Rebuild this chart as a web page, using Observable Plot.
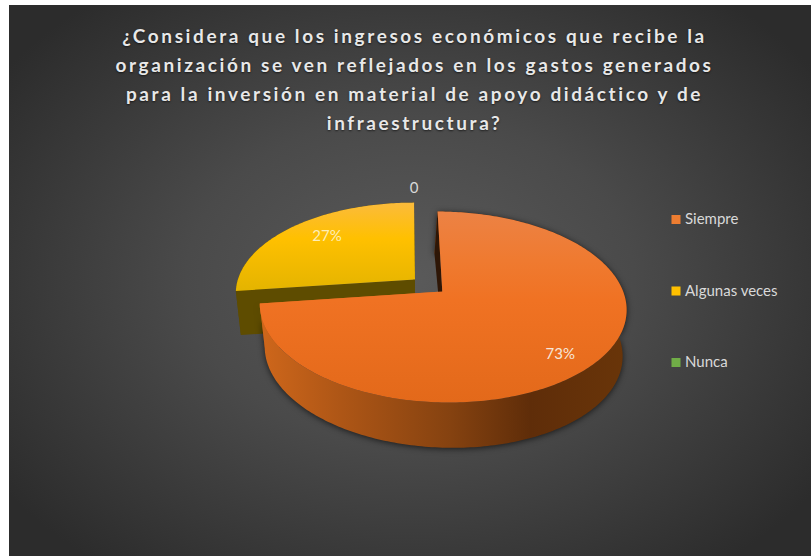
<!DOCTYPE html>
<html><head><meta charset="utf-8">
<script src="https://cdn.jsdelivr.net/npm/d3@7"></script>
<script src="https://cdn.jsdelivr.net/npm/@observablehq/plot@0.6"></script>
<style>
html,body{margin:0;padding:0;background:#fff;}
#frame{position:relative;margin:5px 0 0 9px;width:802px;height:551px;overflow:hidden;
 background:radial-gradient(ellipse 62% 66% at 50% 50%,#5a5a5a 0%,#4a4a4a 45%,#2c2c2c 100%);}
#title{height:126px;box-sizing:border-box;padding-top:16px;text-align:center;color:#e8e8e8;
 font:bold 19px/29px Lato,sans-serif;letter-spacing:2.6px;text-shadow:0 1px 2px rgba(0,0,0,.6);margin-left:9px;}
#chart svg{display:block;}
</style></head><body>
<div id="frame"><div id="title">¿Considera que los ingresos económicos que recibe la<br>organización se ven reflejados en los gastos generados<br>para la inversión en material de apoyo didáctico y de<br>infraestructura?</div><div id="chart"></div></div>
<script>
const categories = ["Siempre", "Algunas veces", "Nunca"];
const values = [73, 27, 0];
const valueLabels = ["73%", "27%", "0"];
const topColors = ["url(#topOrange)", "url(#topYellow)", "#70ad47"];
const wallColors = ["url(#wallOrange)", "#5e4c00", "#44702a"];
const startWallColors = ["#2e1606", "#5e4c00", "#44702a"];
const endWallColors = ["#cf671b", "#262626", "#44702a"];
const legendColors = ["#ed7d31", "#ffc000", "#70ad47"];
const labelRadius = [0.83, 0.755, 1.2];
const labelTurn = [5.2, 3.4, -3.5];
const labelColors = ["#f6e6da", "#fdeeb8", "#d9d9d9"];

// Oblique view of the pie plane
const x0 = 428, y0 = 285, R = 179, Rs = 91, k = 0.16, a = 0.018, explode = 0.1;
function project(U, V, h = 0) {
  const f = 1 - 0.025 * h, d = 1 - k * V;
  return {
    x: x0 + f * R * (U + (a + 0.02 * h) * V) / d,
    y: y0 + f * Rs * V / d + h * (44 + 4 * V)
  };
}
const arcs = d3.pie().sort(null).startAngle(0).endAngle(2 * Math.PI)(values);
function polar(s, r, ang) {
  const mid = (s.startAngle + s.endAngle) / 2;
  return [explode * Math.sin(mid) + r * Math.sin(ang), -explode * Math.cos(mid) - r * Math.cos(ang)];
}
function rim(s, h, reverse) {
  const n = Math.max(2, Math.ceil((s.endAngle - s.startAngle) * 60));
  const out = d3.range(n + 1).map(i => {
    const [U, V] = polar(s, 1, s.startAngle + (s.endAngle - s.startAngle) * i / n);
    return project(U, V, h);
  });
  return reverse ? out.reverse() : out;
}
const apex = (s, h) => { const [U, V] = polar(s, 0, 0); return project(U, V, h); };
const rimPt = (s, ang, h) => { const [U, V] = polar(s, 1, ang); return project(U, V, h); };

const poly = (pts, fill, extra = {}) => Plot.line(pts, {x: "x", y: "y", fill, stroke: "none", curve: "linear", ...extra});
function slice(i) {
  const s = arcs[i];
  if (s.endAngle - s.startAngle <= 0) return [];
  return [
    poly([apex(s, 0), rimPt(s, s.endAngle, 0), rimPt(s, s.endAngle, 1), apex(s, 1)], endWallColors[i]),
    poly([...rim(s, 0), ...rim(s, 1, true)], wallColors[i], i === 0 ? {imageFilter: "drop-shadow(0 1px 3px rgba(0,0,0,.65))"} : {}),
    poly([apex(s, 0), rimPt(s, s.startAngle, 0), rimPt(s, s.startAngle, 1), apex(s, 1)], startWallColors[i]),
    poly([apex(s, 0), ...rim(s, 0)], topColors[i])
  ];
}
const defs = (ix, scales) => {
  const d = d3.create("svg:defs");
  const grad = (id, horizontal, stops) => {
    const g = d.append("linearGradient").attr("id", id).attr("gradientUnits", "userSpaceOnUse");
    const sc = horizontal ? scales.x : scales.y, p = stops.map(t => t[0]);
    const [p0, p1] = d3.extent(p);
    if (horizontal) g.attr("x1", sc(p0)).attr("x2", sc(p1)).attr("y1", 0).attr("y2", 0);
    else g.attr("y1", sc(p0)).attr("y2", sc(p1)).attr("x1", 0).attr("x2", 0);
    stops.forEach(t => g.append("stop").attr("offset", (t[0] - p0) / (p1 - p0)).attr("stop-color", t[1]));
  };
  grad("topOrange", false, [[212, "#ec8244"], [260, "#ef7a30"], [300, "#f07223"], [402, "#e3691a"]]);
  grad("topYellow", false, [[202, "#fbbb3c"], [238, "#ffc000"], [290, "#e4b400"]]);
  grad("wallOrange", true, [[259, "#cf671b"], [340, "#ae5616"], [450, "#854210"], [530, "#5f2d09"], [626, "#693509"]]);
  return d.node();
};
const legendY = i => 219 + 71.5 * i;
const legend = categories.map((c, i) => ({c, i, color: legendColors[i], y: legendY(i)}));
const labels = arcs.map((s, i) => {
  const mid = (s.startAngle + s.endAngle) / 2;
  const [U, V] = polar(s, labelRadius[i], mid + labelTurn[i] * Math.PI / 180);
  return {...project(U, V), text: valueLabels[i], color: labelColors[i]};
});

const plot = Plot.plot({
  width: 802, height: 425, margin: 0,
  x: {domain: [9, 811], range: [0, 802], axis: null},
  y: {domain: [131, 556], range: [0, 425], axis: null},
  style: {background: "transparent", fontFamily: "Lato, sans-serif"},
  marks: [
    defs,
    ...slice(1), ...slice(0), ...slice(2),
    Plot.text(labels, {x: "x", y: "y", text: "text", fill: "color", fontSize: 15}),
    Plot.dot(legend, {x: () => 675.5, y: "y", symbol: "square", r: 5.1, fill: "color", stroke: "none"}),
    Plot.text(legend, {x: () => 684.5, y: "y", text: "c", textAnchor: "start", fill: "#d9d9d9", fontSize: 15})
  ]
});
document.getElementById("chart").appendChild(plot);
</script>
</body></html>
